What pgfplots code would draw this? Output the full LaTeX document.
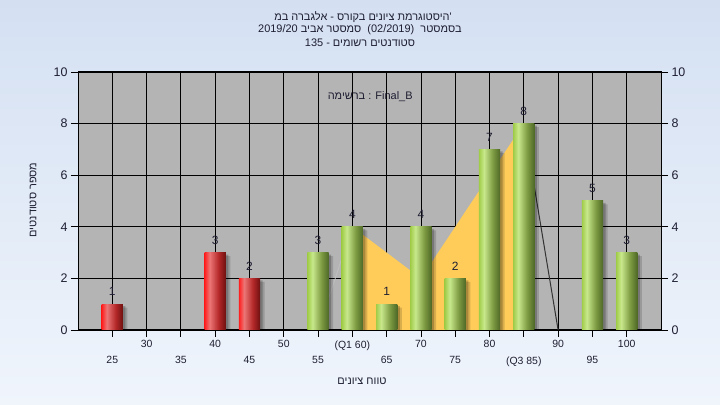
\documentclass[border=0pt]{standalone}
\usepackage{fontspec}
\setmainfont{Liberation Sans}
\newfontfamily\hebfont[Script=Hebrew]{Liberation Sans}
\usepackage{pgfplots}
\pgfplotsset{compat=1.18}
\TeXXeTstate=1

\definecolor{bgtop}{RGB}{212,224,242}
\definecolor{bgbot}{RGB}{240,245,252}
\definecolor{plotbg}{RGB}{180,180,180}
\definecolor{yellowc}{RGB}{255,204,90}
\definecolor{txt}{RGB}{30,30,50}
\definecolor{rA}{RGB}{255,30,30}
\definecolor{rB}{RGB}{236,118,118}
\definecolor{rC}{RGB}{180,40,40}
\definecolor{rD}{RGB}{110,16,16}
\definecolor{gA}{RGB}{160,204,72}
\definecolor{gB}{RGB}{200,232,140}
\definecolor{gC}{RGB}{125,155,66}
\definecolor{gD}{RGB}{78,104,38}

\pgfdeclarehorizontalshading{redbar}{100bp}{color(0bp)=(rA); color(25bp)=(rA); color(37bp)=(rB); color(58bp)=(rC); color(75bp)=(rD); color(100bp)=(rD)}
\pgfdeclarehorizontalshading{greenbar}{100bp}{color(0bp)=(gA); color(25bp)=(gA); color(37bp)=(gB); color(58bp)=(gC); color(75bp)=(gD); color(100bp)=(gD)}

\pgfplotsset{
  barbase/.style={ybar, bar width=3.1, bar shift=0pt, draw=none, shade},
  redb/.style={barbase, shading=redbar},
  greenb/.style={barbase, shading=greenbar},
}

\begin{document}
\begin{tikzpicture}
\shade[top color=bgtop, bottom color=bgbot] (0bp,0bp) rectangle (720bp,405bp);
\path[use as bounding box] (0bp,0bp) rectangle (720bp,405bp);

\node[font=\hebfont\fontsize{11}{13}\selectfont, text=txt] at (363bp,388bp) {\beginR היסטוגרמת ציונים בקורס - אלגברה במ\endR'};
\node[font=\hebfont\fontsize{11}{13}\selectfont, text=txt] at (360bp,375bp) {\beginR בסמסטר \ \beginL(02/2019)\endL{} \ סמסטר אביב \beginL2019/20\endL\endR};
\node[font=\hebfont\fontsize{11}{13}\selectfont, text=txt] at (360bp,362bp) {\beginR סטודנטים רשומים - \beginL135\endL\endR};
\node[font=\hebfont\fontsize{11}{13}\selectfont, text=txt] at (362bp,24bp) {\beginR טווח ציונים\endR};
\node[font=\hebfont\fontsize{11}{13}\selectfont, text=txt, rotate=90] at (33bp,205bp) {\beginR מספר סטודנטים\endR};

\begin{axis}[
  at={(78bp,75bp)}, anchor=south west,
  scale only axis, width=583bp, height=258bp,
  xmin=20, xmax=105, ymin=0, ymax=10,
  axis background/.style={fill=plotbg},
  axis line style={black, line width=1bp},
  xtick={30,40,...,100},
  xticklabels={30,40,50,(Q1 60),70,80,90,100},
  extra x ticks={25,35,45,55,65,75,85,95},
  extra x tick labels={25,35,45,55,65,75,(Q3 85),95},
  extra x tick style={grid=major, xticklabel style={yshift=-16bp}},
  ytick={0,2,...,10},
  xtick pos=bottom, ytick pos=both, yticklabel pos=left,
  tick align=outside, major tick length=7bp,
  tick style={black, line width=0.8bp},
  xmajorgrids, ymajorgrids,
  major grid style={black, line width=0.8bp},
  xticklabel style={font=\fontsize{10.5}{12}\selectfont, text=txt},
  yticklabel style={font=\fontsize{12.5}{14}\selectfont, text=txt},
  /pgf/number format/assume math mode=true,
]
% yellow area (Q1-Q3)
\addplot[fill=yellowc, draw=none] coordinates {(60,4) (70,2) (85,8)} \closedcycle;
\addplot[color=black!18!plotbg!60!white, line width=0.8bp] coordinates {(55,0) (60,4)};
\addplot[color=black!80, line width=1bp] coordinates {(85,8) (90,0)};
% shadows
\addplot[ybar, bar width=3.1, bar shift=4.5bp, yshift=-3.5bp, fill=black, fill opacity=0.15, draw=none] coordinates {(25,1) (40,3) (45,2) (55,3) (60,4) (65,1) (70,4) (75,2) (80,7) (85,8) (95,5) (100,3)};
\addplot[ybar, bar width=3.1, bar shift=2.5bp, yshift=-2bp, fill=black, fill opacity=0.22, draw=none] coordinates {(25,1) (40,3) (45,2) (55,3) (60,4) (65,1) (70,4) (75,2) (80,7) (85,8) (95,5) (100,3)};
% bars (one plot per bar so each gets its own shading)
\addplot[redb] coordinates {(25,1)};
\addplot[redb] coordinates {(40,3)};
\addplot[redb] coordinates {(45,2)};
\addplot[greenb] coordinates {(55,3)};
\addplot[greenb] coordinates {(60,4)};
\addplot[greenb] coordinates {(65,1)};
\addplot[greenb] coordinates {(70,4)};
\addplot[greenb] coordinates {(75,2)};
\addplot[greenb] coordinates {(80,7)};
\addplot[greenb] coordinates {(85,8)};
\addplot[greenb] coordinates {(95,5)};
\addplot[greenb] coordinates {(100,3)};
% value labels
\addplot[only marks, mark=none, nodes near coords, nodes near coords align=above, point meta=explicit symbolic,
  every node near coord/.append style={font=\fontsize{12}{12}\selectfont, text=txt, anchor=south, inner sep=0bp, yshift=8bp}]
  coordinates {(25,1)[1] (40,3)[3] (45,2)[2] (55,3)[3] (60,4)[4] (65,1)[1] (70,4)[4] (75,2)[2] (80,7)[7] (85,8)[8] (95,5)[5] (100,3)[3]};
\node[font=\fontsize{11}{13}\selectfont, text=txt] at (axis cs:62.6,9.05) {{\hebfont\beginR ברשימה\endR} : Final\_B};
\end{axis}

\begin{axis}[
  at={(78bp,75bp)}, anchor=south west,
  scale only axis, width=583bp, height=258bp,
  xmin=20, xmax=105, ymin=0, ymax=10,
  axis x line=none, axis y line*=right,
  y axis line style={draw=none},
  ytick={0,2,...,10},
  tick align=outside, major tick length=7bp,
  ytick style={draw=none},
  yticklabel style={font=\fontsize{12.5}{14}\selectfont, text=txt},
  /pgf/number format/assume math mode=true,
]
\addplot[draw=none] coordinates {(20,0) (105,10)};
\end{axis}
\end{tikzpicture}
\end{document}
